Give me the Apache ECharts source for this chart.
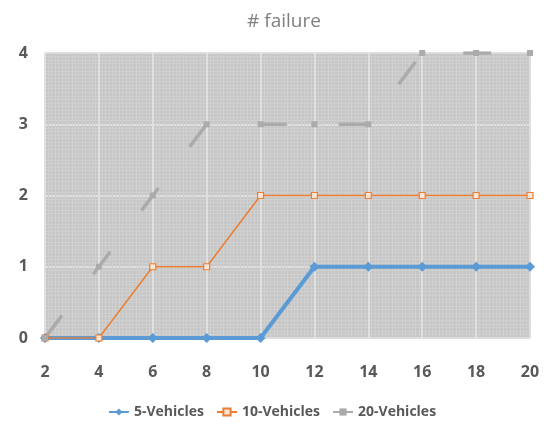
<!DOCTYPE html>
<html style="height: 100%">
<head>
  <meta charset="utf-8">
  <title># failure</title>
</head>
<body style="height: 100%; margin: 0; background: #fff">
  <div id="container" style="width: 544px; height: 429px"></div>
  <script src="https://cdn.jsdelivr.net/npm/echarts@6.0.0/dist/echarts.min.js"></script>
  <script>
    var dom = document.getElementById('container');
    var myChart = echarts.init(dom, null, { renderer: 'canvas' });

    const xValues = [2, 4, 6, 8, 10, 12, 14, 16, 18, 20];
    const vehicles5 = [0, 0, 0, 0, 0, 1, 1, 1, 1, 1];
    const vehicles10 = [0, 0, 1, 1, 2, 2, 2, 2, 2, 2];
    const vehicles20 = [0, 1, 2, 3, 3, 3, 3, 4, 4, 4];

    function pairs(ys) {
      return xValues.map((x, i) => [x, ys[i]]);
    }

    const labelFont = {
      color: '#595959',
      fontFamily: 'Open Sans',
      fontWeight: 'bold',
      fontSize: 16
    };

    var option = {
      animation: false,
      title: {
        text: '# failure',
        left: 279,
        top: 7,
        textAlign: 'center',
        textStyle: {
          color: '#808080',
          fontFamily: 'Open Sans',
          fontWeight: 'normal',
          fontSize: 19
        }
      },
      legend: {
        bottom: 5,
        left: 'center',
        itemWidth: 20,
        itemHeight: 9,
        itemGap: 12,
        textStyle: {
          color: '#595959',
          fontFamily: 'Open Sans',
          fontWeight: 'bold',
          fontSize: 14
        },
        data: ['5-Vehicles', '10-Vehicles', '20-Vehicles']
      },
      grid: {
        left: 45,
        right: 14,
        top: 53,
        bottom: 91,
        show: true,
        backgroundColor: '#c6c6c6',
        borderWidth: 0
      },
      xAxis: {
        type: 'value',
        min: 2,
        max: 20,
        interval: 2,
        axisLine: { show: false },
        axisTick: { show: false },
        axisLabel: Object.assign({ margin: 26 }, labelFont),
        splitLine: { show: true, lineStyle: { color: '#e0e0e0', width: 2 } },
        minorTick: { show: false, splitNumber: 16 },
        minorSplitLine: { show: true, lineStyle: { color: '#d0d0d0', width: 1 } }
      },
      yAxis: {
        type: 'value',
        min: 0,
        max: 4,
        interval: 1,
        axisLine: { show: false },
        axisTick: { show: false },
        axisLabel: Object.assign({ margin: 17 }, labelFont),
        splitLine: { show: true, lineStyle: { color: '#e0e0e0', width: 2 } },
        minorTick: { show: false, splitNumber: 20 },
        minorSplitLine: { show: true, lineStyle: { color: '#d0d0d0', width: 1 } }
      },
      series: [
        {
          name: '5-Vehicles',
          type: 'line',
          data: pairs(vehicles5),
          symbol: 'diamond',
          symbolSize: 10,
          lineStyle: { color: '#5b9bd5', width: 4 },
          itemStyle: { color: '#5b9bd5' }
        },
        {
          name: '10-Vehicles',
          type: 'line',
          data: pairs(vehicles10),
          symbol: 'rect',
          symbolSize: 6,
          lineStyle: { color: '#ed7d31', width: 1.5 },
          itemStyle: { color: '#fbe5d6', borderColor: '#ed7d31', borderWidth: 1.2 }
        },
        {
          name: '20-Vehicles',
          type: 'line',
          data: pairs(vehicles20),
          symbol: 'rect',
          symbolSize: 6,
          lineStyle: { color: '#ababab', width: 3.5, type: [28, 52] },
          itemStyle: { color: '#ababab' }
        }
      ]
    };

    myChart.setOption(option);
    window.addEventListener('resize', myChart.resize);
  </script>
</body>
</html>
